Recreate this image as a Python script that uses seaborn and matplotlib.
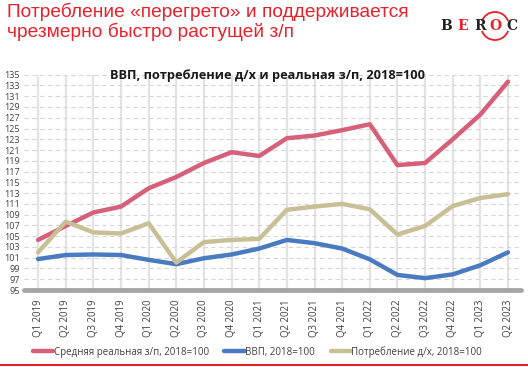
import matplotlib
matplotlib.use("Agg")
import matplotlib.pyplot as plt
from matplotlib.patches import Arc
from matplotlib.lines import Line2D
import seaborn as sns
import pandas as pd
import numpy as np

quarters = ["Q1 2019", "Q2 2019", "Q3 2019", "Q4 2019", "Q1 2020", "Q2 2020",
            "Q3 2020", "Q4 2020", "Q1 2021", "Q2 2021", "Q3 2021", "Q4 2021",
            "Q1 2022", "Q2 2022", "Q3 2022", "Q4 2022", "Q1 2023", "Q2 2023"]
wages = [104.3, 106.9, 109.4, 110.5, 113.9, 116.0, 118.6, 120.6, 119.9, 123.2,
         123.7, 124.7, 125.8, 118.2, 118.6, 123.0, 127.6, 133.7]
gdp = [100.75, 101.5, 101.6, 101.5, 100.6, 99.8, 100.9, 101.6, 102.7, 104.3,
       103.7, 102.7, 100.7, 97.8, 97.2, 97.9, 99.6, 102.0]
consumption = [102.0, 107.7, 105.7, 105.5, 107.4, 100.1, 103.9, 104.3, 104.5, 109.9,
               110.5, 111.0, 110.0, 105.3, 106.9, 110.6, 112.1, 112.8]
series_names = ["Средняя реальная з/п, 2018=100", "ВВП, 2018=100", "Потребление д/х, 2018=100"]
colors = ["#D6607A", "#4A7BC0", "#C9BF97"]
yticks = list(range(95, 136, 2))

sns.set_style("white")
plt.rcParams['font.family'] = ['Open Sans', 'DejaVu Sans']

rows = []
for name, vals in zip(series_names, [wages, gdp, consumption]):
    for i, v in enumerate(vals):
        rows.append({"idx": i, "value": v, "series": name})
df = pd.DataFrame(rows)

fig = plt.figure(figsize=(5.28, 3.67), dpi=100)
ax = fig.add_axes([24/528, 1 - 290/367, 497/528, 215.3/367])

# grid
for i in range(len(quarters)):
    ax.axvline(i, color="#e3e3e3", lw=1.6, zorder=0)
for y in yticks[1:]:
    ax.axhline(y, color="#d6d6d6", lw=0.8, ls=(0, (4, 3)), zorder=0)

sns.lineplot(data=df, x="idx", y="value", hue="series", palette=colors,
             hue_order=series_names, lw=3.2, ax=ax, legend=False, sort=False,
             solid_capstyle="round", zorder=3)

ax.axhline(95, color="#a6a6a6", lw=3.5, zorder=2, clip_on=False)
ax.set_xlim(-0.51, 17.47)
ax.set_ylim(95, 135)
ax.set_yticks(yticks)
ax.set_yticklabels([str(t) for t in yticks], fontsize=6.5, color="#404040")
ax.set_xticks(range(len(quarters)))
ax.set_xticklabels(quarters, rotation=90, fontsize=6.9, color="#404040")
ax.tick_params(axis="both", length=0, pad=3)
ax.tick_params(axis="x", pad=7)
ax.set_xlabel("")
ax.set_ylabel("")
for s in ax.spines.values():
    s.set_visible(False)

# chart subtitle
fig.text(110/528, 1 - 75/367, "ВВП, потребление д/х и реальная з/п, 2018=100",
         fontsize=9.2, fontweight="bold", color="#1a1a1a", va="center", ha="left")

# slide title
fig.text(7/528, 1 - 12/367, "Потребление «перегрето» и поддерживается",
         fontsize=13.8, color="#E8202A", va="center", ha="left",
         family=["Liberation Sans", "DejaVu Sans"])
fig.text(7/528, 1 - 32/367, "чрезмерно быстро растущей з/п",
         fontsize=13.8, color="#E8202A", va="center", ha="left",
         family=["Liberation Sans", "DejaVu Sans"])

# logo
logo_letters = ["B", "E", "R", "O", "C"]
logo_x = [446, 463, 480, 495, 512]
logo_c = ["#222222", "#E8202A", "#222222", "#E8202A", "#222222"]
for ch, lx, lc in zip(logo_letters, logo_x, logo_c):
    fig.text(lx/528, 1 - 26/367, ch, fontsize=10, fontweight="bold", color=lc,
             ha="center", va="center", family=["DejaVu Serif"])
cx, cy, r = 495/528, 1 - 26/367, 14
for t1, t2 in [(28, 152), (208, 332)]:
    fig.add_artist(Arc((cx, cy), 2*r/528, 2*r/367, theta1=t1, theta2=t2,
                       transform=fig.transFigure, color="#E8202A", lw=1.3))

# legend
handles = [Line2D([], [], color=c, lw=3.2, solid_capstyle="round") for c in colors]
leg = fig.legend(handles, series_names, loc="center left",
                 bbox_to_anchor=(24/528, 1 - 352/367), ncol=3, frameon=False,
                 fontsize=7, handlelength=2.1, handletextpad=0.05,
                 columnspacing=1.6)
for t in leg.get_texts():
    t.set_color("#404040")

# bottom red line
fig.add_artist(Line2D([0, 1], [1 - 365/367, 1 - 365/367], transform=fig.transFigure,
                      color="#E8202A", lw=1.5))

fig.savefig("out.png", dpi=100, facecolor="white")
